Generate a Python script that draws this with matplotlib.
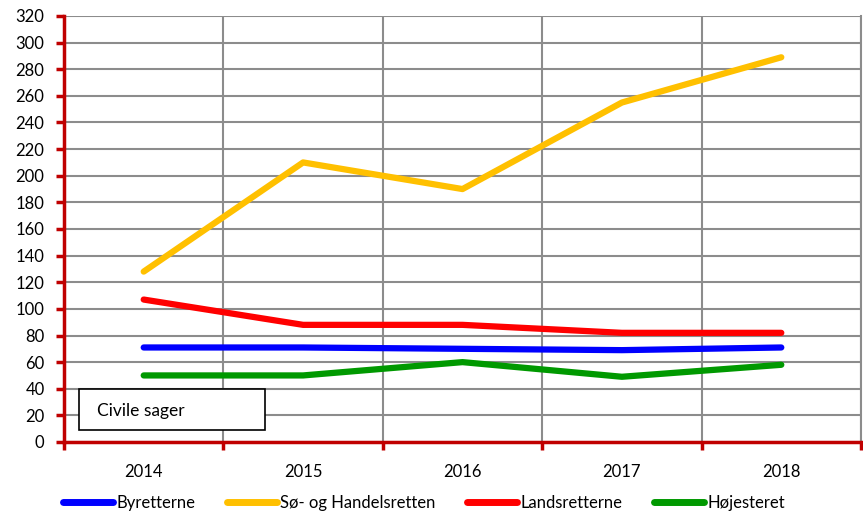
import matplotlib.pyplot as plt
from matplotlib.patches import Rectangle

# Data
years = ['2014', '2015', '2016', '2017', '2018']
byretterne = [71, 71, 70, 69, 71]
soe_handel = [128, 210, 190, 255, 289]
landsretterne = [107, 88, 88, 82, 82]
hoejesteret = [50, 50, 60, 49, 58]

series_names = ['Byretterne', 'Sø- og Handelsretten', 'Landsretterne', 'Højesteret']
series_colors = ['#0000FF', '#FFC000', '#FF0000', '#009900']

plt.rcParams['font.family'] = ['Lato', 'DejaVu Sans']

fig = plt.figure(figsize=(8.63, 5.16), dpi=100)
ax = fig.add_axes([64 / 863, 74 / 516, 797 / 863, 426 / 516])

x = list(range(len(years)))
for vals, name, col in zip([byretterne, soe_handel, landsretterne, hoejesteret],
                           series_names, series_colors):
    ax.plot(x, vals, color=col, lw=4.5, label=name, solid_capstyle='round')

# axes, ticks and grid
ax.set_xlim(-0.5, len(years) - 0.5)
ax.set_ylim(0, 320)
ax.set_yticks(range(0, 321, 20))
ax.set_xticks(x)
ax.set_xticklabels(years)
ax.set_xticks([i - 0.5 for i in range(len(years) + 1)], minor=True)

ax.tick_params(axis='x', which='major', length=0, pad=16, labelsize=12)
ax.tick_params(axis='x', which='minor', length=6, width=2.5, color='#C00000', direction='out')
ax.tick_params(axis='y', length=6, width=2.5, color='#C00000', direction='out', pad=8, labelsize=12)

ax.grid(True, which='minor', axis='x', color='#8C8C8C', lw=1.5)
ax.grid(True, which='major', axis='y', color='#8C8C8C', lw=1.5)
ax.set_axisbelow(True)

for side in ['left', 'bottom']:
    ax.spines[side].set_color('#C00000')
    ax.spines[side].set_linewidth(2.5)
    ax.spines[side].set_zorder(5)
ax.spines['top'].set_visible(False)
ax.spines['right'].set_color('#8C8C8C')
ax.spines['right'].set_linewidth(1.5)

# "Civile sager" box
box = Rectangle((79 / 863, (516 - 430) / 516), 186 / 863, 41 / 516,
                transform=fig.transFigure, facecolor='white', edgecolor='black',
                lw=1.2, zorder=10)
fig.add_artist(box)
fig.text(97 / 863, (516 - 411) / 516, 'Civile sager', fontsize=12.5,
         va='center', ha='left', zorder=11)

# legend at the bottom
leg = fig.legend(loc='center', bbox_to_anchor=(424 / 863, (516 - 503) / 516), ncol=4,
                 frameon=False, fontsize=12, handlelength=3.0, handletextpad=0.2,
                 columnspacing=1.9)
for line in leg.get_lines():
    line.set_linewidth(5)

fig.savefig('out.png', dpi=100)
